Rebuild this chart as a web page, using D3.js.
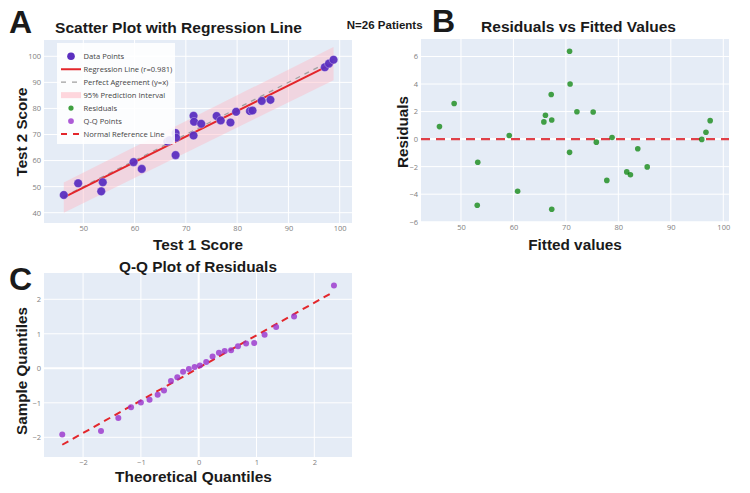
<!DOCTYPE html>
<html><head><meta charset="utf-8">
<script src="https://cdn.jsdelivr.net/npm/d3@7"></script>
<style>body{margin:0;background:#fff} svg{display:block}</style>
</head><body><svg id="c" width="750" height="493"></svg>
<script>
// ---------- data ----------
const test1 = [46.2, 49.0, 53.5, 53.8, 59.8, 61.4, 66.4, 66.8, 68.0, 68.1, 68.0, 71.5, 71.6, 71.5, 73.0, 76.0, 76.8, 78.7, 79.8, 82.5, 83.0, 84.8, 86.5, 97.1, 97.9, 98.8];
const test2 = [46.8, 51.3, 48.2, 51.7, 59.4, 56.8, 67.3, 67.8, 70.6, 68.8, 62.1, 77.2, 74.9, 69.6, 74.1, 77.1, 75.4, 74.6, 78.7, 79.0, 79.2, 82.9, 83.3, 95.8, 97.2, 98.7];
const bandX = [46.2, 98.8];
const bandLow = [40.0, 90.8];
const bandHigh = [51.6, 103.6];
const fittedValues = [45.9, 48.7, 53.2, 53.1, 59.2, 60.8, 65.8, 66.1, 67.2, 67.3, 67.3, 70.7, 70.8, 70.7, 72.1, 75.2, 75.8, 77.8, 78.8, 81.6, 82.3, 83.7, 85.5, 95.9, 96.7, 97.5];
const residuals = [0.91, 2.59, -1.68, -4.8, 0.26, -3.79, 1.25, 1.73, 3.24, 1.39, -5.09, 6.38, 4.0, -0.96, 1.99, 1.97, -0.22, -3.0, 0.12, -2.38, -2.59, -0.70, -2.02, -0.02, 0.5, 1.34];
const theoreticalQuantiles = [-2.36, -1.69, -1.39, -1.17, -1.00, -0.85, -0.71, -0.60, -0.48, -0.37, -0.27, -0.17, -0.07, 0.02, 0.13, 0.24, 0.35, 0.45, 0.56, 0.68, 0.82, 0.96, 1.14, 1.34, 1.65, 2.34];
const sampleQuantiles = [-1.92, -1.82, -1.44, -1.13, -0.99, -0.91, -0.77, -0.64, -0.37, -0.26, -0.10, -0.02, 0.04, 0.08, 0.18, 0.34, 0.45, 0.50, 0.52, 0.64, 0.72, 0.73, 0.97, 1.20, 1.50, 2.40];
const xTicksA = [50, 60, 70, 80, 90, 100];
const yTicksA = [40, 50, 60, 70, 80, 90, 100];
const xTicksB = [50, 60, 70, 80, 90, 100];
const yTicksB = [-6, -4, -2, 0, 2, 4, 6];
const xTicksC = [-2, -1, 0, 1, 2];
const yTicksC = [-2, -1, 0, 1, 2];
const legendLabels = ["Data Points", "Regression Line (r=0.981)", "Perfect Agreement (y=x)", "95% Prediction Interval", "Residuals", "Q-Q Points", "Normal Reference Line"];

// ---------- helpers ----------
const svg = d3.select('#c');
const BG = '#E5ECF6';
const TITLE_FONT = '"Liberation Sans", Arial, Helvetica, sans-serif';
const TICK_FONT = '"Open Sans", "DejaVu Sans", sans-serif';
const C_DATA = '#5b2fc0', C_RES = '#008000', C_QQ = '#9932CC', C_RED = '#e3262b';
const fmt = d3.format('~g');

function linfit(xs, ys) {
  const mx = d3.mean(xs), my = d3.mean(ys);
  let sxy = 0, sxx = 0;
  xs.forEach((v, i) => { sxy += (v - mx) * (ys[i] - my); sxx += (v - mx) * (v - mx); });
  const b = sxy / sxx;
  return { b, a: my - b * mx };
}

function fitWidth(sel, size, target) {
  const w = sel.node().getComputedTextLength();
  if (target && w > 0) sel.attr('font-size', size * target / w);
  return sel;
}

function makePanel(p) {
  const x = d3.scaleLinear().domain(p.xd).range([p.x0, p.x1]);
  const y = d3.scaleLinear().domain(p.yd).range([p.y1, p.y0]);
  const g = svg.append('g');
  g.append('rect').attr('x', p.x0).attr('y', p.y0).attr('width', p.x1 - p.x0).attr('height', p.y1 - p.y0).attr('fill', BG);
  g.selectAll(null).data(p.xt).join('line')
    .attr('x1', d => x(d)).attr('x2', d => x(d)).attr('y1', p.y0).attr('y2', p.y1)
    .attr('stroke', '#fff').attr('stroke-width', d => d === 0 ? 2 : 1);
  g.selectAll(null).data(p.yt).join('line')
    .attr('y1', d => y(d)).attr('y2', d => y(d)).attr('x1', p.x0).attr('x2', p.x1)
    .attr('stroke', '#fff').attr('stroke-width', d => d === 0 ? 2 : 1);
  const ax = g.append('g').attr('transform', `translate(0,${p.y1})`)
    .call(d3.axisBottom(x).tickValues(p.xt).tickSize(0).tickPadding(3).tickFormat(fmt));
  const ay = g.append('g').attr('transform', `translate(${p.x0},0)`)
    .call(d3.axisLeft(y).tickValues(p.yt).tickSize(0).tickPadding(3).tickFormat(fmt));
  [ax, ay].forEach(a => {
    a.select('.domain').remove();
    a.selectAll('text').attr('font-family', TICK_FONT).attr('font-size', 7.5).attr('fill', '#808080');
  });
  return { g, x, y };
}

function text(t, x, y, size, opts = {}) {
  const el = svg.append('text').attr('x', x).attr('y', y).text(t)
    .attr('font-family', TITLE_FONT).attr('font-weight', 'bold').attr('font-size', size)
    .attr('fill', opts.fill || '#1a1a1a').attr('text-anchor', opts.anchor || 'middle');
  fitWidth(el, size, opts.width);
  if (opts.rotate) el.attr('transform', `rotate(-90,${x},${y})`);
  return el;
}

// ---------- Panel A ----------
const A = makePanel({ x0: 44, x1: 352, y0: 40, y1: 223, xd: [42.34, 102.4], yd: [36.05, 106.25], xt: xTicksA, yt: yTicksA });
const fitA = linfit(test1, test2);
const bandPts = bandX.map((v, i) => ({ x: v, lo: bandLow[i], hi: bandHigh[i] }));
A.g.append('path').datum(bandPts)
  .attr('d', d3.area().x(d => A.x(d.x)).y0(d => A.y(d.lo)).y1(d => A.y(d.hi)))
  .attr('fill', 'rgba(255,182,193,0.42)');
const xr = d3.extent(test1);
A.g.append('line').attr('x1', A.x(xr[0])).attr('y1', A.y(xr[0])).attr('x2', A.x(xr[1])).attr('y2', A.y(xr[1]))
  .attr('stroke', '#a0a0a0').attr('stroke-width', 1.3).attr('stroke-dasharray', '5,5');
A.g.append('line').attr('x1', A.x(xr[0])).attr('y1', A.y(fitA.a + fitA.b * xr[0]))
  .attr('x2', A.x(xr[1])).attr('y2', A.y(fitA.a + fitA.b * xr[1]))
  .attr('stroke', C_RED).attr('stroke-width', 2);
A.g.selectAll(null).data(test1).join('circle')
  .attr('cx', d => A.x(d)).attr('cy', (d, i) => A.y(test2[i])).attr('r', 4.3)
  .attr('fill', C_DATA).attr('fill-opacity', 0.95).attr('stroke', 'rgba(255,255,255,0.5)').attr('stroke-width', 0.6);

// legend
const lg = A.g.append('g');
lg.append('rect').attr('x', 57).attr('y', 43).attr('width', 118).attr('height', 101).attr('fill', 'rgba(255,255,255,0.88)');
const ly = i => 56.3 + i * 12.95;
const sx0 = 61, sx1 = 81, scx = 71;
lg.append('circle').attr('cx', scx).attr('cy', ly(0)).attr('r', 3.8).attr('fill', C_DATA);
lg.append('line').attr('x1', sx0).attr('x2', sx1).attr('y1', ly(1)).attr('y2', ly(1)).attr('stroke', C_RED).attr('stroke-width', 2);
lg.append('line').attr('x1', sx0).attr('x2', sx1).attr('y1', ly(2)).attr('y2', ly(2)).attr('stroke', '#a0a0a0').attr('stroke-width', 1.3).attr('stroke-dasharray', '5,6');
lg.append('line').attr('x1', sx0).attr('x2', sx1).attr('y1', ly(3)).attr('y2', ly(3)).attr('stroke', 'rgba(255,182,193,0.55)').attr('stroke-width', 6);
lg.append('circle').attr('cx', scx).attr('cy', ly(4)).attr('r', 2.6).attr('fill', C_RES).attr('fill-opacity', 0.75);
lg.append('circle').attr('cx', scx).attr('cy', ly(5)).attr('r', 2.9).attr('fill', C_QQ).attr('fill-opacity', 0.8);
lg.append('line').attr('x1', sx0).attr('x2', sx1).attr('y1', ly(6)).attr('y2', ly(6)).attr('stroke', C_RED).attr('stroke-width', 2).attr('stroke-dasharray', '6,6');
const lt = lg.selectAll(null).data(legendLabels).join('text')
  .attr('x', 83.5).attr('y', (d, i) => ly(i)).attr('dy', '0.35em').text(d => d)
  .attr('font-family', TICK_FONT).attr('font-size', 8).attr('fill', '#444');
const lw = lt.filter((d, i) => i === 1).node().getComputedTextLength();
lt.attr('font-size', 8 * 89 / lw);

// ---------- Panel B ----------
const B = makePanel({ x0: 421, x1: 729, y0: 39, y1: 222, xd: [42.38, 101.09], yd: [-6.02, 7.27], xt: xTicksB, yt: yTicksB });
B.g.append('line').attr('x1', 421).attr('x2', 729).attr('y1', B.y(0)).attr('y2', B.y(0))
  .attr('stroke', '#e04048').attr('stroke-width', 2.3).attr('stroke-dasharray', '9,6');
B.g.selectAll(null).data(fittedValues).join('circle')
  .attr('cx', d => B.x(d)).attr('cy', (d, i) => B.y(residuals[i])).attr('r', 2.8)
  .attr('fill', C_RES).attr('fill-opacity', 0.72);

// ---------- Panel C ----------
const C = makePanel({ x0: 44, x1: 352, y0: 273, y1: 457, xd: [-2.676, 2.652], yd: [-2.571, 2.762], xt: xTicksC, yt: yTicksC });
const fitC = linfit(theoreticalQuantiles, sampleQuantiles);
const tr = d3.extent(theoreticalQuantiles);
C.g.append('line').attr('x1', C.x(tr[0])).attr('y1', C.y(fitC.a + fitC.b * tr[0]))
  .attr('x2', C.x(tr[1])).attr('y2', C.y(fitC.a + fitC.b * tr[1]))
  .attr('stroke', C_RED).attr('stroke-width', 2).attr('stroke-dasharray', '7,5');
C.g.selectAll(null).data(theoreticalQuantiles).join('circle')
  .attr('cx', d => C.x(d)).attr('cy', (d, i) => C.y(sampleQuantiles[i])).attr('r', 3)
  .attr('fill', C_QQ).attr('fill-opacity', 0.8);

// ---------- texts ----------
text('A', 9, 33.3, 32, { anchor: 'start' });
text('B', 432, 31.6, 32, { anchor: 'start' });
text('C', 9, 290, 32, { anchor: 'start' });
text('Scatter Plot with Regression Line', 178.5, 33, 15.5, { width: 247 });
text('Residuals vs Fitted Values', 578.5, 32.3, 15.5, { width: 195 });
text('N=26 Patients', 384.7, 29, 11.5, { width: 76 });
const t1 = text('Test 1 Score', 198, 249.5, 15.5, { width: 90 });
text('Fitted values', 575, 249.5, +t1.attr('font-size'));
text('Q-Q Plot of Residuals', 198, 271.5, 15.5, { width: 158 });
text('Theoretical Quantiles', 193.5, 482, 15.5, { width: 157 });
text('Test 2 Score', 27, 132, 15.5, { rotate: true, width: 89 });
text('Residuals', 408, 132, 15.5, { rotate: true, width: 72 });
text('Sample Quantiles', 27, 371, 15.5, { rotate: true, width: 128 });
</script></body></html>
